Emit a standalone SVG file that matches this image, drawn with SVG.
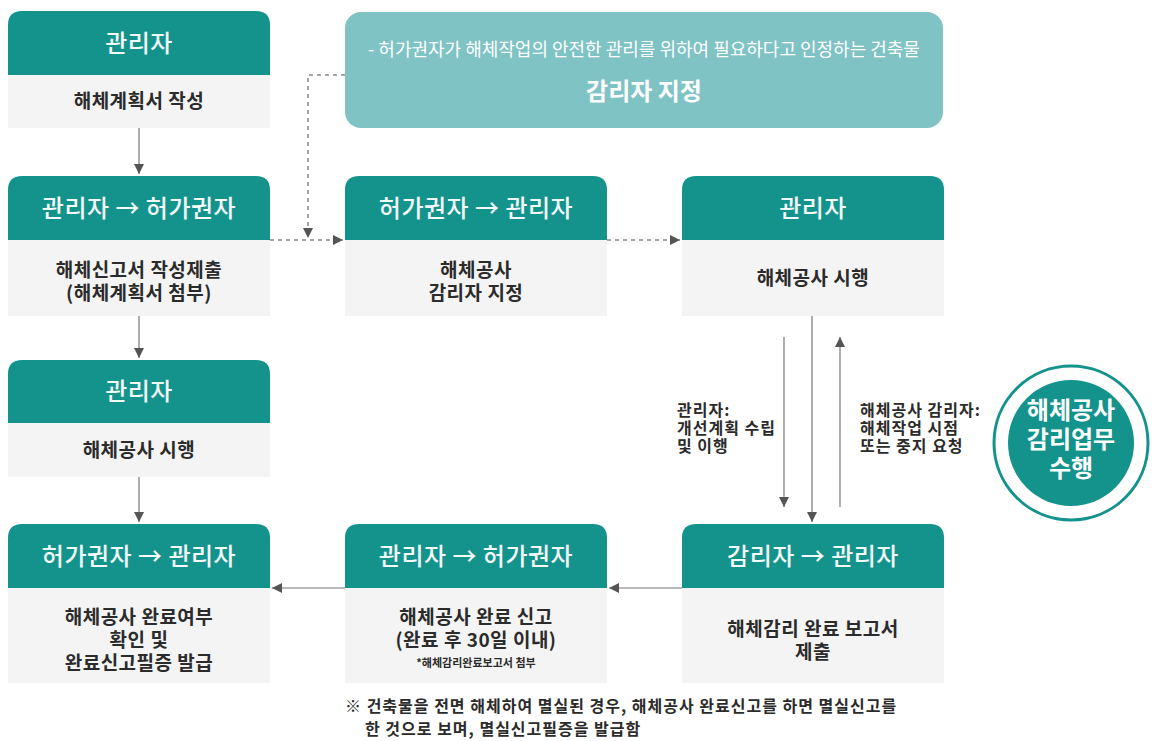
<svg xmlns="http://www.w3.org/2000/svg" width="1161" height="741" viewBox="0 0 1161 741">
<defs>
<style>
.hd{fill:#14938d}
.bd{fill:#f4f4f4}
.ht{font-family:"Noto Sans CJK KR","Noto Sans",sans-serif;font-size:24px;font-weight:500;fill:#f4fbfa;text-anchor:middle;letter-spacing:0.5px}
.bt{font-family:"Noto Sans CJK KR","Noto Sans",sans-serif;font-size:19px;font-weight:700;fill:#2b2b2b;text-anchor:middle;letter-spacing:0.5px}
.sm{font-family:"Noto Sans CJK KR","Noto Sans",sans-serif;font-size:11px;font-weight:700;fill:#2b2b2b;text-anchor:middle}
.lb{font-family:"Noto Sans CJK KR","Noto Sans",sans-serif;font-size:16px;font-weight:700;fill:#2b2b2b;letter-spacing:1px}
.ct{font-family:"Noto Sans CJK KR","Noto Sans",sans-serif;font-size:24px;font-weight:700;fill:#ffffff;text-anchor:middle}
.ln{stroke:#777;stroke-width:1.2;fill:none}
.dl{stroke:#888;stroke-width:1.5;fill:none;stroke-dasharray:4 4}
</style>
<marker id="ah" viewBox="0 0 10 10" refX="10" refY="5" markerWidth="10" markerHeight="10" markerUnits="userSpaceOnUse" orient="auto">
<path d="M0,0 L10,5 L0,10 z" fill="#555"/>
</marker>
</defs>
<rect width="1161" height="741" fill="#ffffff"/>

<g id="banner">
<rect x="345" y="12" width="598" height="116" rx="16" fill="#7fc3c5"/>
<text x="644" y="56" font-family="'Noto Sans CJK KR','Noto Sans',sans-serif" font-size="18" fill="#ffffff" text-anchor="middle">- 허가권자가 해체작업의 안전한 관리를 위하여 필요하다고 인정하는 건축물</text>
<text x="644" y="100" font-family="'Noto Sans CJK KR','Noto Sans',sans-serif" font-size="24" font-weight="700" fill="#ffffff" text-anchor="middle">감리자 지정</text>
</g>

<g id="n1">
<path class="hd" d="M8,75 V25 Q8,11 22,11 H256 Q270,11 270,25 V75 Z"/>
<rect class="bd" x="8" y="75" width="262" height="53"/>
<text class="ht" x="139" y="52">관리자</text>
<text class="bt" x="139" y="108">해체계획서 작성</text>
</g>

<g id="n2">
<path class="hd" d="M8,240 V190 Q8,176 22,176 H256 Q270,176 270,190 V240 Z"/>
<rect class="bd" x="8" y="240" width="262" height="76"/>
<text class="ht" x="139" y="217">관리자 → 허가권자</text>
<text class="bt" x="139" y="277">해체신고서 작성제출</text>
<text class="bt" x="139" y="300">(해체계획서 첨부)</text>
</g>

<g id="n3">
<path class="hd" d="M345,240 V190 Q345,176 359,176 H593 Q607,176 607,190 V240 Z"/>
<rect class="bd" x="345" y="240" width="262" height="76"/>
<text class="ht" x="476" y="217">허가권자 → 관리자</text>
<text class="bt" x="476" y="277">해체공사</text>
<text class="bt" x="476" y="300">감리자 지정</text>
</g>

<g id="n4">
<path class="hd" d="M682,240 V190 Q682,176 696,176 H930 Q944,176 944,190 V240 Z"/>
<rect class="bd" x="682" y="240" width="262" height="76"/>
<text class="ht" x="813" y="217">관리자</text>
<text class="bt" x="813" y="285">해체공사 시행</text>
</g>

<g id="n5">
<path class="hd" d="M8,423 V374 Q8,360 22,360 H256 Q270,360 270,374 V423 Z"/>
<rect class="bd" x="8" y="423" width="262" height="54"/>
<text class="ht" x="139" y="400">관리자</text>
<text class="bt" x="139" y="457">해체공사 시행</text>
</g>

<g id="n6">
<path class="hd" d="M8,588 V538 Q8,524 22,524 H256 Q270,524 270,538 V588 Z"/>
<rect class="bd" x="8" y="588" width="262" height="95"/>
<text class="ht" x="139" y="565">허가권자 → 관리자</text>
<text class="bt" x="139" y="624">해체공사 완료여부</text>
<text class="bt" x="139" y="647">확인 및</text>
<text class="bt" x="139" y="670">완료신고필증 발급</text>
</g>

<g id="n7">
<path class="hd" d="M345,588 V538 Q345,524 359,524 H593 Q607,524 607,538 V588 Z"/>
<rect class="bd" x="345" y="588" width="262" height="95"/>
<text class="ht" x="476" y="565">관리자 → 허가권자</text>
<text class="bt" x="476" y="624">해체공사 완료 신고</text>
<text class="bt" x="476" y="647">(완료 후 30일 이내)</text>
<text class="sm" x="476" y="667">*해체감리완료보고서 첨부</text>
</g>

<g id="n8">
<path class="hd" d="M682,588 V538 Q682,524 696,524 H930 Q944,524 944,538 V588 Z"/>
<rect class="bd" x="682" y="588" width="262" height="95"/>
<text class="ht" x="813" y="565">감리자 → 관리자</text>
<text class="bt" x="813" y="636">해체감리 완료 보고서</text>
<text class="bt" x="813" y="659">제출</text>
</g>

<g id="circle">
<circle cx="1071" cy="443" r="77" fill="#ffffff" stroke="#14938d" stroke-width="3"/>
<circle cx="1071" cy="443" r="63" fill="#14938d"/>
<text class="ct" x="1071" y="419">해체공사</text>
<text class="ct" x="1071" y="448">감리업무</text>
<text class="ct" x="1071" y="477">수행</text>
</g>

<g id="connectors">
<line class="ln" x1="139" y1="128" x2="139" y2="174" marker-end="url(#ah)"/>
<line class="ln" x1="139" y1="316" x2="139" y2="358" marker-end="url(#ah)"/>
<line class="ln" x1="139" y1="477" x2="139" y2="522" marker-end="url(#ah)"/>
<line class="dl" x1="270" y1="240" x2="343" y2="240" marker-end="url(#ah)"/>
<line class="dl" x1="607" y1="240" x2="680" y2="240" marker-end="url(#ah)"/>
<polyline class="dl" points="345,75 308,75 308,238" marker-end="url(#ah)"/>
<line class="ln" x1="812" y1="316" x2="812" y2="522" marker-end="url(#ah)"/>
<line class="ln" x1="784" y1="337" x2="784" y2="507" marker-end="url(#ah)"/>
<line class="ln" x1="840" y1="507" x2="840" y2="337" marker-end="url(#ah)"/>
<line class="ln" x1="682" y1="588" x2="609" y2="588" marker-end="url(#ah)"/>
<line class="ln" x1="345" y1="588" x2="272" y2="588" marker-end="url(#ah)"/>
</g>

<g id="labels">
<text class="lb" x="677" y="416">관리자:</text>
<text class="lb" x="677" y="434">개선계획 수립</text>
<text class="lb" x="677" y="452">및 이행</text>
<text class="lb" x="860" y="416">해체공사 감리자:</text>
<text class="lb" x="860" y="434">해체작업 시점</text>
<text class="lb" x="860" y="452">또는 중지 요청</text>
</g>

<g id="footnote">
<text class="lb" x="345" y="712" font-size="17">※ 건축물을 전면 해체하여 멸실된 경우, 해체공사 완료신고를 하면 멸실신고를</text>
<text class="lb" x="365" y="735" font-size="17">한 것으로 보며, 멸실신고필증을 발급함</text>
</g>
</svg>
